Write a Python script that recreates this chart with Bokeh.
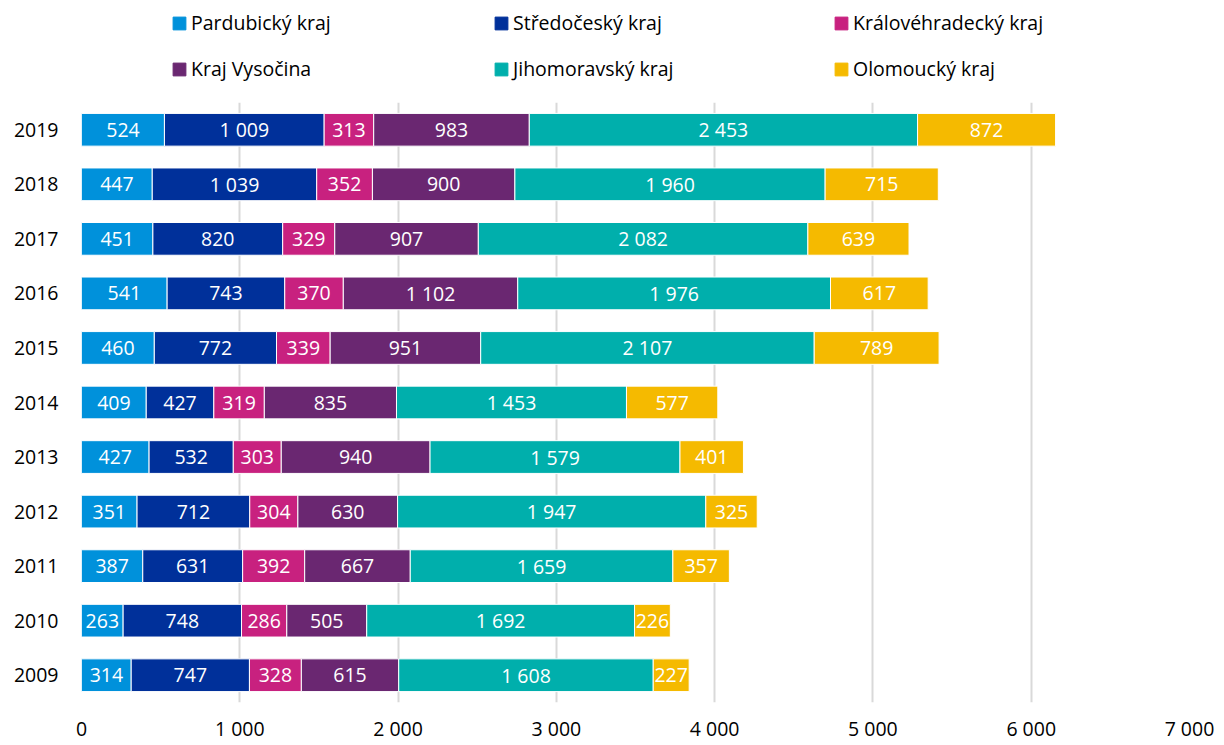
from bokeh.plotting import figure
from bokeh.layouts import column
from bokeh.models import ColumnDataSource, Legend, LegendItem, Range1d, FactorRange, FixedTicker
from bokeh.core.properties import value
from bokeh.embed import file_html
from bokeh.resources import INLINE

years = ["2009", "2010", "2011", "2012", "2013", "2014", "2015", "2016", "2017", "2018", "2019"]
regions = ["Pardubický kraj", "Středočeský kraj", "Královéhradecký kraj",
           "Kraj Vysočina", "Jihomoravský kraj", "Olomoucký kraj"]
pardubicky = [314, 263, 387, 351, 427, 409, 460, 541, 451, 447, 524]
stredocesky = [747, 748, 631, 712, 532, 427, 772, 743, 820, 1039, 1009]
kralovehradecky = [328, 286, 392, 304, 303, 319, 339, 370, 329, 352, 313]
vysocina = [615, 505, 667, 630, 940, 835, 951, 1102, 907, 900, 983]
jihomoravsky = [1608, 1692, 1659, 1947, 1579, 1453, 2107, 1976, 2082, 1960, 2453]
olomoucky = [227, 226, 357, 325, 401, 577, 789, 617, 639, 715, 872]
x_ticks = [0, 1000, 2000, 3000, 4000, 5000, 6000, 7000]
x_tick_labels = ["0", "1 000", "2 000", "3 000", "4 000", "5 000", "6 000", "7 000"]

colors = ["#0091DB", "#00309A", "#C8217F", "#6A2771", "#00AFAC", "#F5BA00"]
keys = ["pardubicky", "stredocesky", "kralovehradecky", "vysocina", "jihomoravsky", "olomoucky"]
series = [pardubicky, stredocesky, kralovehradecky, vysocina, jihomoravsky, olomoucky]

FONT = "Open Sans"
FS = "19.5px"
W = 1216

data = {"year": years}
for k, s in zip(keys, series):
    data[k] = s
source = ColumnDataSource(data)

p = figure(width=W, height=650, output_backend="svg", toolbar_location=None,
           y_range=FactorRange(factors=years), x_range=Range1d(0, 7000),
           min_border_left=81, min_border_right=27, min_border_top=8, min_border_bottom=40)

renderers = p.hbar_stack(keys, y="year", height=0.6, color=colors, source=source,
                         line_color="white", line_width=1)

# value labels
lx, ly, lt = [], [], []
for i, y in enumerate(years):
    left = 0
    for s in series:
        v = s[i]
        lx.append(left + v / 2)
        ly.append(y)
        lt.append(f"{v:,}".replace(",", " "))
        left += v
lsrc = ColumnDataSource(dict(x=lx, y=ly, t=lt))
p.text(x="x", y="y", text="t", source=lsrc, text_color="white", text_align="center",
       text_baseline="middle", text_font=value(FONT), text_font_size=FS)

# axes
p.xaxis.ticker = FixedTicker(ticks=x_ticks)
p.xaxis.major_label_overrides = {t: l for t, l in zip(x_ticks, x_tick_labels)}
for ax in (p.xaxis[0], p.yaxis[0]):
    ax.axis_line_color = None
    ax.major_tick_line_color = None
    ax.minor_tick_line_color = None
    ax.major_tick_out = 0
    ax.major_tick_in = 0
    ax.minor_tick_out = 0
    ax.minor_tick_in = 0
    ax.major_label_text_font = FONT
    ax.major_label_text_font_size = FS
    ax.major_label_text_color = "#000000"
p.xaxis.major_label_standoff = 12
p.yaxis.major_label_standoff = 23

p.xgrid.grid_line_color = "#D9D9D9"
p.xgrid.grid_line_width = 2
p.ygrid.grid_line_color = None
p.outline_line_color = None

# legend strip above the chart (proxy glyphs lie outside the strip's visible range)
lf = figure(width=W, height=94, output_backend="svg", toolbar_location=None,
            x_range=Range1d(0, 1), y_range=Range1d(0, 1),
            x_axis_type=None, y_axis_type=None,
            min_border_left=81, min_border_right=27, min_border_top=0, min_border_bottom=0)
lf.outline_line_color = None
proxy = ColumnDataSource(dict(y=[-5], l=[0], r=[1]))
dummies = [lf.hbar(y="y", left="l", right="r", height=0.5, color=c, source=proxy) for c in colors]

cols = [(0, 3, 90), (1, 4, 412), (2, 5, 752)]
for a, b, xoff in cols:
    leg = Legend(items=[LegendItem(label=regions[a], renderers=[dummies[a]]),
                        LegendItem(label=regions[b], renderers=[dummies[b]])],
                 location=(xoff, 12), orientation="vertical",
                 glyph_width=16, glyph_height=16, label_standoff=4,
                 label_text_font=FONT, label_text_font_size=FS, label_text_color="#000000",
                 label_height=27, spacing=19, padding=0, margin=0,
                 border_line_color=None, background_fill_alpha=0)
    lf.add_layout(leg, "center")

layout = column(lf, p, spacing=0)
open("out.html", "w").write(file_html(layout, INLINE))
